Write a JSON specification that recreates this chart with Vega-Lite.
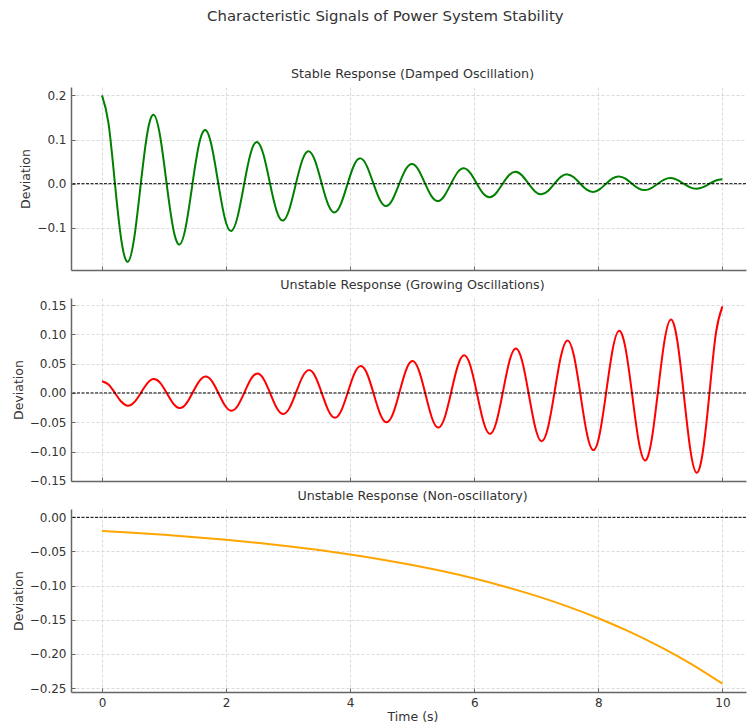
{
  "$schema": "https://vega.github.io/schema/vega-lite/v6.json",
  "padding": {"left": 12, "top": 9, "right": 0, "bottom": 0},
  "title": {"text": "Characteristic Signals of Power System Stability", "fontSize": 14.9, "font": "DejaVu Sans", "fontWeight": "normal", "color": "#333333", "offset": 44, "anchor": "middle", "dx": 6},
  "config": {
    "font": "DejaVu Sans",
    "view": {"stroke": null},
    "axis": {"labelFont": "DejaVu Sans", "labelFontSize": 12, "labelColor": "#333333", "labelOverlap": false, "titleFont": "DejaVu Sans", "titleFontSize": 12.5, "titleFontWeight": "normal", "titleColor": "#333333", "domainColor": "#666666", "domainWidth": 1.5, "tickColor": "#666666", "tickSize": -4, "tickWidth": 1, "tickCount": 20, "gridColor": "#d0d0d0", "gridDash": [3, 2], "gridWidth": 0.8, "labelPadding": 9, "titlePadding": 4},
    "title": {"fontSize": 12.7, "fontWeight": "normal", "color": "#333333", "font": "DejaVu Sans", "offset": 6, "dx": 4},
    "concat": {"spacing": 28}
  },
  "bounds": "flush",
  "datasets": {
    "osc": [
      {"t": 0, "stable": 0.2, "growing": 0.02},
      {"t": 0.1042, "stable": 0.137071, "growing": 0.01444},
      {"t": 0.2083, "stable": 0, "growing": 0},
      {"t": 0.3125, "stable": -0.128764, "growing": -0.015054},
      {"t": 0.4167, "stable": -0.176499, "growing": -0.021738},
      {"t": 0.5208, "stable": -0.120963, "growing": -0.015695},
      {"t": 0.625, "stable": 0, "growing": 0},
      {"t": 0.7292, "stable": 0.113634, "growing": 0.016362},
      {"t": 0.8333, "stable": 0.15576, "growing": 0.023627},
      {"t": 0.9375, "stable": 0.106751, "growing": 0.017059},
      {"t": 1.0417, "stable": 0, "growing": 0},
      {"t": 1.1458, "stable": -0.100281, "growing": -0.017784},
      {"t": 1.25, "stable": -0.137458, "growing": -0.025681},
      {"t": 1.3542, "stable": -0.094207, "growing": -0.018542},
      {"t": 1.4583, "stable": 0, "growing": 0},
      {"t": 1.5625, "stable": 0.088498, "growing": 0.01933},
      {"t": 1.6667, "stable": 0.121306, "growing": 0.027912},
      {"t": 1.7708, "stable": 0.083138, "growing": 0.020152},
      {"t": 1.875, "stable": 0, "growing": 0},
      {"t": 1.9792, "stable": -0.078099, "growing": -0.02101},
      {"t": 2.0833, "stable": -0.107052, "growing": -0.030338},
      {"t": 2.1875, "stable": -0.073369, "growing": -0.021904},
      {"t": 2.2917, "stable": 0, "growing": 0},
      {"t": 2.3958, "stable": 0.068922, "growing": 0.022836},
      {"t": 2.5, "stable": 0.094473, "growing": 0.032974},
      {"t": 2.6042, "stable": 0.064747, "growing": 0.023807},
      {"t": 2.7083, "stable": 0, "growing": 0},
      {"t": 2.8125, "stable": -0.060823, "growing": -0.02482},
      {"t": 2.9167, "stable": -0.083372, "growing": -0.03584},
      {"t": 3.0208, "stable": -0.057139, "growing": -0.025876},
      {"t": 3.125, "stable": 0, "growing": 0},
      {"t": 3.2292, "stable": 0.053677, "growing": 0.026977},
      {"t": 3.3333, "stable": 0.073576, "growing": 0.038955},
      {"t": 3.4375, "stable": 0.050425, "growing": 0.028125},
      {"t": 3.5417, "stable": 0, "growing": 0},
      {"t": 3.6458, "stable": -0.04737, "growing": -0.029322},
      {"t": 3.75, "stable": -0.06493, "growing": -0.04234},
      {"t": 3.8542, "stable": -0.0445, "growing": -0.030569},
      {"t": 3.9583, "stable": 0, "growing": 0},
      {"t": 4.0625, "stable": 0.041803, "growing": 0.03187},
      {"t": 4.1667, "stable": 0.057301, "growing": 0.04602},
      {"t": 4.2708, "stable": 0.039271, "growing": 0.033226},
      {"t": 4.375, "stable": 0, "growing": 0},
      {"t": 4.4792, "stable": -0.036891, "growing": -0.03464},
      {"t": 4.5833, "stable": -0.050568, "growing": -0.050019},
      {"t": 4.6875, "stable": -0.034657, "growing": -0.036114},
      {"t": 4.7917, "stable": 0, "growing": 0},
      {"t": 4.8958, "stable": 0.032557, "growing": 0.03765},
      {"t": 5, "stable": 0.044626, "growing": 0.054366},
      {"t": 5.1042, "stable": 0.030584, "growing": 0.039252},
      {"t": 5.2083, "stable": 0, "growing": 0},
      {"t": 5.3125, "stable": -0.028731, "growing": -0.040922},
      {"t": 5.4167, "stable": -0.039382, "growing": -0.05909},
      {"t": 5.5208, "stable": -0.026991, "growing": -0.042663},
      {"t": 5.625, "stable": 0, "growing": 0},
      {"t": 5.7292, "stable": 0.025355, "growing": 0.044478},
      {"t": 5.8333, "stable": 0.034755, "growing": 0.064225},
      {"t": 5.9375, "stable": 0.02382, "growing": 0.04637},
      {"t": 6.0417, "stable": 0, "growing": 0},
      {"t": 6.1458, "stable": -0.022376, "growing": -0.048343},
      {"t": 6.25, "stable": -0.030671, "growing": -0.069807},
      {"t": 6.3542, "stable": -0.021021, "growing": -0.0504},
      {"t": 6.4583, "stable": 0, "growing": 0},
      {"t": 6.5625, "stable": 0.019747, "growing": 0.052545},
      {"t": 6.6667, "stable": 0.027067, "growing": 0.075873},
      {"t": 6.7708, "stable": 0.01855, "growing": 0.05478},
      {"t": 6.875, "stable": 0, "growing": 0},
      {"t": 6.9792, "stable": -0.017426, "growing": -0.057111},
      {"t": 7.0833, "stable": -0.023887, "growing": -0.082467},
      {"t": 7.1875, "stable": -0.016371, "growing": -0.059541},
      {"t": 7.2917, "stable": 0, "growing": 0},
      {"t": 7.3958, "stable": 0.015379, "growing": 0.062074},
      {"t": 7.5, "stable": 0.02108, "growing": 0.089634},
      {"t": 7.6042, "stable": 0.014447, "growing": 0.064715},
      {"t": 7.7083, "stable": 0, "growing": 0},
      {"t": 7.8125, "stable": -0.013572, "growing": -0.067469},
      {"t": 7.9167, "stable": -0.018603, "growing": -0.097423},
      {"t": 8.0208, "stable": -0.01275, "growing": -0.070339},
      {"t": 8.125, "stable": 0, "growing": 0},
      {"t": 8.2292, "stable": 0.011977, "growing": 0.073332},
      {"t": 8.3333, "stable": 0.016417, "growing": 0.10589},
      {"t": 8.4375, "stable": 0.011251, "growing": 0.076452},
      {"t": 8.5417, "stable": 0, "growing": 0},
      {"t": 8.6458, "stable": -0.01057, "growing": -0.079705},
      {"t": 8.75, "stable": -0.014488, "growing": -0.115092},
      {"t": 8.8542, "stable": -0.009929, "growing": -0.083096},
      {"t": 8.9583, "stable": 0, "growing": 0},
      {"t": 9.0625, "stable": 0.009328, "growing": 0.086632},
      {"t": 9.1667, "stable": 0.012786, "growing": 0.125094},
      {"t": 9.2708, "stable": 0.008763, "growing": 0.090318},
      {"t": 9.375, "stable": 0, "growing": 0},
      {"t": 9.4792, "stable": -0.008232, "growing": -0.09416},
      {"t": 9.5833, "stable": -0.011283, "growing": -0.135965},
      {"t": 9.6875, "stable": -0.007733, "growing": -0.098166},
      {"t": 9.7917, "stable": 0, "growing": 0},
      {"t": 9.8958, "stable": 0.007264, "growing": 0.102343},
      {"t": 10, "stable": 0.009957, "growing": 0.147781}
    ],
    "mono": [
      {"t": 0, "v": -0.02},
      {"t": 0.5, "v": -0.022663},
      {"t": 1, "v": -0.025681},
      {"t": 1.5, "v": -0.0291},
      {"t": 2, "v": -0.032974},
      {"t": 2.5, "v": -0.037365},
      {"t": 3, "v": -0.04234},
      {"t": 3.5, "v": -0.047978},
      {"t": 4, "v": -0.054366},
      {"t": 4.5, "v": -0.061604},
      {"t": 5, "v": -0.069807},
      {"t": 5.5, "v": -0.079102},
      {"t": 6, "v": -0.089634},
      {"t": 6.5, "v": -0.101568},
      {"t": 7, "v": -0.115092},
      {"t": 7.5, "v": -0.130416},
      {"t": 8, "v": -0.147781},
      {"t": 8.5, "v": -0.167458},
      {"t": 9, "v": -0.189755},
      {"t": 9.5, "v": -0.21502},
      {"t": 10, "v": -0.24365}
    ],
    "zero": [{"zero": 0}]
  },
  "vconcat": [
    {
      "title": "Stable Response (Damped Oscillation)",
      "width": 675,
      "height": 183,
      "layer": [
        {
          "data": {"name": "osc"},
          "mark": {"type": "line", "color": "#008000", "strokeWidth": 2, "interpolate": "natural"},
          "encoding": {
            "x": {"field": "t", "type": "quantitative", "scale": {"domain": [-0.5, 10.38], "nice": false, "zero": false}, "axis": {"values": [0, 2, 4, 6, 8, 10], "labels": false, "title": null, "tickCount": 20}},
            "y": {"field": "stable", "type": "quantitative", "title": "Deviation", "scale": {"domain": [-0.1953, 0.2188], "nice": false, "zero": false}, "axis": {"values": [-0.1, 0, 0.1, 0.2], "format": ".1f", "labelOverlap": false, "tickCount": 20}}
          }
        },
        {
          "data": {"name": "zero"},
          "mark": {"type": "rule", "color": "#000000", "strokeDash": [3, 1.5], "strokeWidth": 1},
          "encoding": {"y": {"field": "zero", "type": "quantitative", "title": "Deviation"}}
        }
      ]
    },
    {
      "title": "Unstable Response (Growing Oscillations)",
      "width": 675,
      "height": 183,
      "layer": [
        {
          "data": {"name": "osc"},
          "mark": {"type": "line", "color": "#ff0000", "strokeWidth": 2, "interpolate": "natural"},
          "encoding": {
            "x": {"field": "t", "type": "quantitative", "scale": {"domain": [-0.5, 10.38], "nice": false, "zero": false}, "axis": {"values": [0, 2, 4, 6, 8, 10], "labels": false, "title": null, "tickCount": 20}},
            "y": {"field": "growing", "type": "quantitative", "title": "Deviation", "scale": {"domain": [-0.1502, 0.162], "nice": false, "zero": false}, "axis": {"values": [-0.15, -0.1, -0.05, 0, 0.05, 0.1, 0.15], "format": ".2f", "labelOverlap": false, "tickCount": 20}}
          }
        },
        {
          "data": {"name": "zero"},
          "mark": {"type": "rule", "color": "#000000", "strokeDash": [3, 1.5], "strokeWidth": 1},
          "encoding": {"y": {"field": "zero", "type": "quantitative", "title": "Deviation"}}
        }
      ]
    },
    {
      "title": "Unstable Response (Non-oscillatory)",
      "width": 675,
      "height": 183,
      "layer": [
        {
          "data": {"name": "mono"},
          "mark": {"type": "line", "color": "#ffa500", "strokeWidth": 2, "interpolate": "natural"},
          "encoding": {
            "x": {"field": "t", "type": "quantitative", "title": "Time (s)", "scale": {"domain": [-0.5, 10.38], "nice": false, "zero": false}, "axis": {"values": [0, 2, 4, 6, 8, 10], "format": "d", "titlePadding": 2, "titleX": 341.5, "tickCount": 20}},
            "y": {"field": "v", "type": "quantitative", "title": "Deviation", "scale": {"domain": [-0.2558, 0.0122], "nice": false, "zero": false}, "axis": {"values": [-0.25, -0.2, -0.15, -0.1, -0.05, 0], "format": ".2f", "labelOverlap": false, "tickCount": 20}}
          }
        },
        {
          "data": {"name": "zero"},
          "mark": {"type": "rule", "color": "#000000", "strokeDash": [3, 1.5], "strokeWidth": 1},
          "encoding": {"y": {"field": "zero", "type": "quantitative", "title": "Deviation"}}
        }
      ]
    }
  ]
}
